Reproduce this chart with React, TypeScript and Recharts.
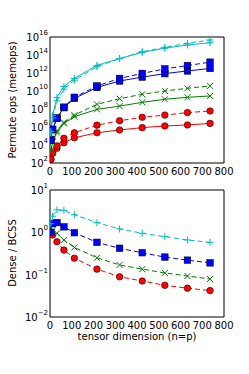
import React from 'react';
import { LineChart, Line, XAxis, YAxis } from 'recharts';

// ---------- data ----------
const xValues = [4, 12, 32, 64, 112, 216, 320, 424, 528, 632, 736];
const xTicks = [0, 100, 200, 300, 400, 500, 600, 700, 800];

// top panel: permute ops (memops), solid = BCSS, dashed = dense
const redSolid = [2.5e2, 1.2e3, 4.3e3, 1.8e4, 6.3e4, 2.3e5, 4.7e5, 8.5e5, 1.3e6, 1.7e6, 2.5e6];
const redDashed = [2.5e2, 1.3e3, 7.9e3, 5.5e4, 2.3e5, 1.6e6, 5.0e6, 1.2e7, 2.1e7, 4.0e7, 6.0e7];
const blueSolid = [3.6e4, 5.5e5, 9.3e6, 1.4e8, 1.5e9, 2.5e10, 1.3e11, 3.5e11, 8.5e11, 1.7e12, 3.2e12];
const blueDashed = [3.6e4, 5.5e5, 1.0e7, 1.6e8, 2.0e9, 3.6e10, 2.5e11, 9.0e11, 2.9e12, 6.8e12, 1.6e13];
const greenSolid = [2.5e3, 2.0e4, 2.5e5, 2.5e6, 1.4e7, 9.1e7, 2.1e8, 5.5e8, 1.2e9, 2.0e9, 2.8e9];
const greenDashed = [2.5e3, 2.5e4, 4.0e5, 3.2e6, 2.1e7, 3.3e8, 1.4e9, 4.3e9, 1.0e10, 2.0e10, 3.7e10];
const cyanSolid = [3.2e5, 2.0e7, 2.0e9, 3.2e10, 2.5e11, 7.1e12, 4.0e13, 2.0e14, 5.6e14, 1.3e15, 2.3e15];
const cyanDashed = [2.0e5, 1.0e7, 7.9e8, 1.6e10, 1.6e11, 5.0e12, 4.0e13, 2.3e14, 7.1e14, 2.0e15, 4.7e15];

// bottom panel: Dense / BCSS ratio
const redRatio = [0.95, 0.87, 0.6, 0.38, 0.245, 0.135, 0.089, 0.071, 0.056, 0.048, 0.042];
const greenRatio = [1.25, 1.1, 0.95, 0.66, 0.44, 0.25, 0.17, 0.135, 0.11, 0.093, 0.079];
const blueRatio = [1.0, 1.6, 1.7, 1.35, 0.98, 0.58, 0.42, 0.33, 0.26, 0.22, 0.19];
const cyanRatio = [1.6, 2.4, 3.4, 3.3, 2.6, 1.7, 1.2, 0.95, 0.79, 0.66, 0.58];

const topYTicks = [1e2, 1e3, 1e4, 1e5, 1e6, 1e7, 1e8, 1e9, 1e10, 1e11, 1e12, 1e13, 1e14, 1e15, 1e16];
const bottomYTicks = [1e-2, 1e-1, 1, 10];
const bottomMinorTicks = [
  0.02, 0.03, 0.04, 0.05, 0.06, 0.07, 0.08, 0.09,
  0.2, 0.3, 0.4, 0.5, 0.6, 0.7, 0.8, 0.9,
  2, 3, 4, 5, 6, 7, 8, 9,
];

const topData = xValues.map((x, i) => ({
  x,
  redSolid: redSolid[i],
  redDashed: redDashed[i],
  blueSolid: blueSolid[i],
  blueDashed: blueDashed[i],
  greenSolid: greenSolid[i],
  greenDashed: greenDashed[i],
  cyanSolid: cyanSolid[i],
  cyanDashed: cyanDashed[i],
}));

const bottomData = xValues.map((x, i) => ({
  x,
  red: redRatio[i],
  green: greenRatio[i],
  blue: blueRatio[i],
  cyan: cyanRatio[i],
}));

// ---------- styles ----------
const RED = '#ff0000';
const BLUE = '#0000ff';
const GREEN = '#008000';
const CYAN = '#00bfbf';
const FONT = 'DejaVu Sans';
const DASH = '5 3';

const circleDot = (color: string) => (p: any) => (
  <circle key={p.index} cx={p.cx} cy={p.cy} r={3.3} fill={color} stroke="#000" strokeWidth={0.5} />
);
const squareDot = (color: string) => (p: any) => (
  <rect key={p.index} x={p.cx - 3.3} y={p.cy - 3.3} width={6.6} height={6.6} fill={color} stroke="#000" strokeWidth={0.5} />
);
const xDot = (color: string) => (p: any) => (
  <path
    key={p.index}
    d={`M${p.cx - 3},${p.cy - 3}L${p.cx + 3},${p.cy + 3}M${p.cx - 3},${p.cy + 3}L${p.cx + 3},${p.cy - 3}`}
    stroke={color}
    strokeWidth={1}
    fill="none"
  />
);
const plusDot = (color: string) => (p: any) => (
  <path
    key={p.index}
    d={`M${p.cx - 3.5},${p.cy}L${p.cx + 3.5},${p.cy}M${p.cx},${p.cy - 3.5}L${p.cx},${p.cy + 3.5}`}
    stroke={color}
    strokeWidth={1}
    fill="none"
  />
);

const XTick = (props: any) => {
  const { x, y, payload } = props;
  return (
    <text x={x} y={y} dy="0.71em" textAnchor="middle" fontSize={10} fontFamily={FONT} fill="#000">
      {payload.value}
    </text>
  );
};

const makePowTick = (every: number) => (props: any) => {
  const { x, y, payload } = props;
  const e = Math.round(Math.log10(payload.value));
  if (e % every !== 0) return <g />;
  const expText = e < 0 ? '\u2212' + -e : String(e);
  return (
    <text x={x} y={y} textAnchor="end" fontSize={10} fontFamily={FONT} fill="#000">
      <tspan dy={4}>10</tspan>
      <tspan dy={-6} fontSize={7}>
        {expText}
      </tspan>
    </text>
  );
};

const topPowTick = makePowTick(2);
const bottomPowTick = makePowTick(1);

const axisLineStyle = { stroke: '#000', strokeWidth: 1 };
const tickLineStyle = { stroke: '#000', strokeWidth: 1 };

export default function App() {
  return (
    <div style={{ position: 'absolute', left: 0, top: 0, width: 249, height: 374, background: '#fff', overflow: 'hidden' }}>
      {/* top panel */}
      <div style={{ position: 'absolute', left: 0, top: 0 }}>
        <LineChart width={249} height={180} data={topData} margin={{ top: 37, right: 25, bottom: 0, left: 0 }}>
          <XAxis
            xAxisId="x"
            dataKey="x"
            type="number"
            domain={[0, 800]}
            ticks={xTicks}
            allowDataOverflow
            height={17}
            tickLine={false}
            tickSize={0}
            tickMargin={4.5}
            axisLine={axisLineStyle}
            tick={XTick}
            interval={0}
          />
          <XAxis xAxisId="xb" type="number" domain={[0, 800]} ticks={xTicks} allowDataOverflow mirror tick={false} tickSize={4} tickLine={tickLineStyle} axisLine={false} interval={0} />
          <XAxis xAxisId="xt" orientation="top" type="number" domain={[0, 800]} ticks={xTicks} allowDataOverflow mirror tick={false} tickSize={4} tickLine={tickLineStyle} axisLine={axisLineStyle} interval={0} />
          <YAxis
            yAxisId="y"
            type="number"
            scale="log"
            domain={[1e2, 1e16]}
            ticks={topYTicks}
            allowDataOverflow
            width={50}
            tickLine={false}
            tickSize={0}
            tickMargin={2}
            axisLine={axisLineStyle}
            tick={topPowTick}
            interval={0}
          />
          <YAxis yAxisId="yl" type="number" scale="log" domain={[1e2, 1e16]} ticks={topYTicks} allowDataOverflow mirror tick={false} tickSize={4} tickLine={tickLineStyle} axisLine={false} interval={0} />
          <YAxis yAxisId="yr" orientation="right" type="number" scale="log" domain={[1e2, 1e16]} ticks={topYTicks} allowDataOverflow mirror tick={false} tickSize={4} tickLine={tickLineStyle} axisLine={axisLineStyle} interval={0} />

          <Line xAxisId="x" yAxisId="y" dataKey="redSolid" stroke={RED} strokeWidth={1} dot={circleDot(RED)} isAnimationActive={false} />
          <Line xAxisId="x" yAxisId="y" dataKey="redDashed" stroke={RED} strokeWidth={1} strokeDasharray={DASH} dot={circleDot(RED)} isAnimationActive={false} />
          <Line xAxisId="x" yAxisId="y" dataKey="greenSolid" stroke={GREEN} strokeWidth={1} dot={xDot(GREEN)} isAnimationActive={false} />
          <Line xAxisId="x" yAxisId="y" dataKey="greenDashed" stroke={GREEN} strokeWidth={1} strokeDasharray={DASH} dot={xDot(GREEN)} isAnimationActive={false} />
          <Line xAxisId="x" yAxisId="y" dataKey="blueSolid" stroke={BLUE} strokeWidth={1} dot={squareDot(BLUE)} isAnimationActive={false} />
          <Line xAxisId="x" yAxisId="y" dataKey="blueDashed" stroke={BLUE} strokeWidth={1} strokeDasharray={DASH} dot={squareDot(BLUE)} isAnimationActive={false} />
          <Line xAxisId="x" yAxisId="y" dataKey="cyanSolid" stroke={CYAN} strokeWidth={1} dot={plusDot(CYAN)} isAnimationActive={false} />
          <Line xAxisId="x" yAxisId="y" dataKey="cyanDashed" stroke={CYAN} strokeWidth={1} strokeDasharray={DASH} dot={plusDot(CYAN)} isAnimationActive={false} />
        </LineChart>
      </div>

      {/* bottom panel */}
      <div style={{ position: 'absolute', left: 0, top: 0 }}>
        <LineChart width={249} height={334} data={bottomData} margin={{ top: 190, right: 25, bottom: 0, left: 0 }}>
          <XAxis
            xAxisId="x"
            dataKey="x"
            type="number"
            domain={[0, 800]}
            ticks={xTicks}
            allowDataOverflow
            height={17}
            tickLine={false}
            tickSize={0}
            tickMargin={4.5}
            axisLine={axisLineStyle}
            tick={XTick}
            interval={0}
          />
          <XAxis xAxisId="xb" type="number" domain={[0, 800]} ticks={xTicks} allowDataOverflow mirror tick={false} tickSize={4} tickLine={tickLineStyle} axisLine={false} interval={0} />
          <XAxis xAxisId="xt" orientation="top" type="number" domain={[0, 800]} ticks={xTicks} allowDataOverflow mirror tick={false} tickSize={4} tickLine={tickLineStyle} axisLine={axisLineStyle} interval={0} />
          <YAxis
            yAxisId="y"
            type="number"
            scale="log"
            domain={[1e-2, 10]}
            ticks={bottomYTicks}
            allowDataOverflow
            width={50}
            tickLine={false}
            tickSize={0}
            tickMargin={2}
            axisLine={axisLineStyle}
            tick={bottomPowTick}
            interval={0}
          />
          <YAxis yAxisId="yl" type="number" scale="log" domain={[1e-2, 10]} ticks={bottomYTicks} allowDataOverflow mirror tick={false} tickSize={4} tickLine={tickLineStyle} axisLine={false} interval={0} />
          <YAxis yAxisId="yr" orientation="right" type="number" scale="log" domain={[1e-2, 10]} ticks={bottomYTicks} allowDataOverflow mirror tick={false} tickSize={4} tickLine={tickLineStyle} axisLine={axisLineStyle} interval={0} />
          <YAxis yAxisId="ylm" type="number" scale="log" domain={[1e-2, 10]} ticks={bottomMinorTicks} allowDataOverflow mirror tick={false} tickSize={2} tickLine={tickLineStyle} axisLine={false} interval={0} />
          <YAxis yAxisId="yrm" orientation="right" type="number" scale="log" domain={[1e-2, 10]} ticks={bottomMinorTicks} allowDataOverflow mirror tick={false} tickSize={2} tickLine={tickLineStyle} axisLine={false} interval={0} />

          <Line xAxisId="x" yAxisId="y" dataKey="red" stroke={RED} strokeWidth={1} strokeDasharray={DASH} dot={circleDot(RED)} isAnimationActive={false} />
          <Line xAxisId="x" yAxisId="y" dataKey="green" stroke={GREEN} strokeWidth={1} strokeDasharray={DASH} dot={xDot(GREEN)} isAnimationActive={false} />
          <Line xAxisId="x" yAxisId="y" dataKey="blue" stroke={BLUE} strokeWidth={1} strokeDasharray={DASH} dot={squareDot(BLUE)} isAnimationActive={false} />
          <Line xAxisId="x" yAxisId="y" dataKey="cyan" stroke={CYAN} strokeWidth={1} strokeDasharray={DASH} dot={plusDot(CYAN)} isAnimationActive={false} />
        </LineChart>
      </div>

      {/* axis titles */}
      <div
        style={{
          position: 'absolute',
          left: 13,
          top: 100,
          transform: 'translate(-50%, -50%) rotate(-90deg)',
          whiteSpace: 'nowrap',
          fontSize: 10,
          fontFamily: FONT,
          color: '#000',
          lineHeight: 1,
        }}
      >
        Permute ops (memops)
      </div>
      <div
        style={{
          position: 'absolute',
          left: 13,
          top: 253,
          transform: 'translate(-50%, -50%) rotate(-90deg)',
          whiteSpace: 'nowrap',
          fontSize: 10,
          fontFamily: FONT,
          color: '#000',
          lineHeight: 1,
        }}
      >
        Dense / BCSS
      </div>
      <div
        style={{
          position: 'absolute',
          left: 137,
          top: 337,
          transform: 'translate(-50%, -50%)',
          whiteSpace: 'nowrap',
          fontSize: 10,
          fontFamily: FONT,
          color: '#000',
          lineHeight: 1,
        }}
      >
        tensor dimension (n=p)
      </div>
    </div>
  );
}
